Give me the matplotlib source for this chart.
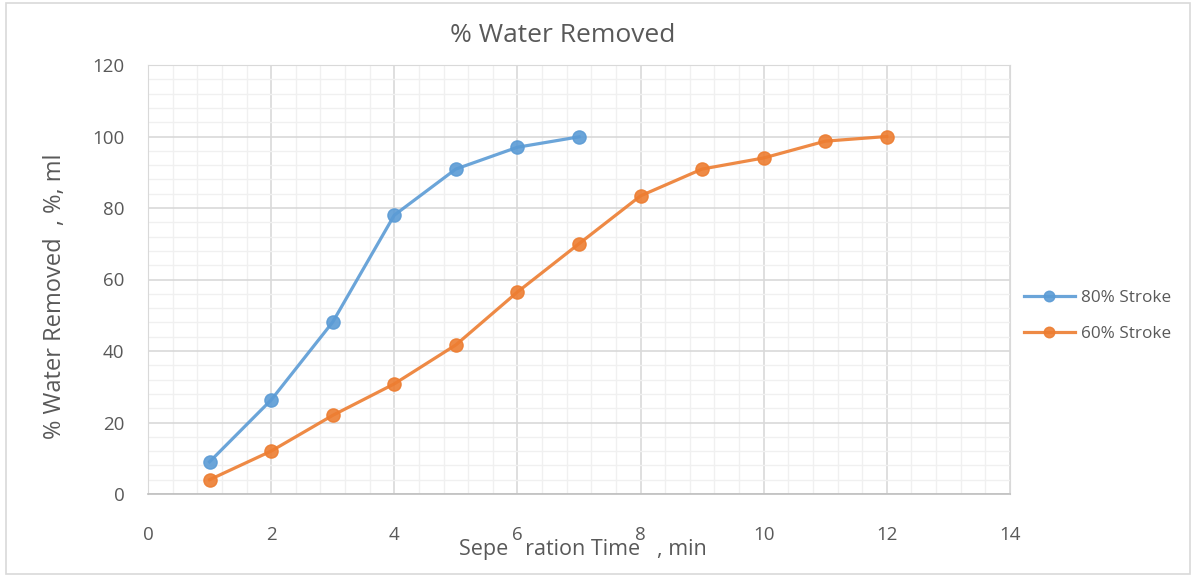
import matplotlib
matplotlib.use("Agg")
import matplotlib.pyplot as plt
from matplotlib.ticker import MultipleLocator
from matplotlib.patches import Rectangle

plt.rcParams['font.family'] = ['Open Sans', 'DejaVu Sans']

# Separation time (min) and cumulative water removed (%)
time_80 = [1, 2, 3, 4, 5, 6, 7]
water_80 = [9, 26.3, 48.1, 78, 90.9, 97, 99.9]
time_60 = [1, 2, 3, 4, 5, 6, 7, 8, 9, 10, 11, 12]
water_60 = [4, 12, 22, 30.8, 41.7, 56.5, 70, 83.4, 90.9, 94, 98.7, 100]
series_labels = ["80% Stroke", "60% Stroke"]
x_ticks = [0, 2, 4, 6, 8, 10, 12, 14]
y_ticks = [0, 20, 40, 60, 80, 100, 120]

W, H = 1194, 577
fig = plt.figure(figsize=(W / 100, H / 100), dpi=100)
ax = fig.add_axes([148 / W, 1 - 494 / H, (1010 - 148) / W, (494 - 65) / H])

text_col = "#595959"
blue = "#5B9BD5"
orange = "#ED7D31"

ax.plot(time_80, water_80, color=blue, lw=2.3, marker='o', ms=9.5,
        label=series_labels[0], alpha=0.9, zorder=3)
ax.plot(time_60, water_60, color=orange, lw=2.3, marker='o', ms=9.5,
        label=series_labels[1], alpha=0.9, zorder=3)

ax.set_xlim(0, 14)
ax.set_ylim(0, 120)
ax.set_xticks(x_ticks)
ax.set_yticks(y_ticks)
ax.xaxis.set_minor_locator(MultipleLocator(0.4))
ax.yaxis.set_minor_locator(MultipleLocator(4))
ax.grid(which='major', color='#D9D9D9', lw=1.2)
ax.grid(which='minor', color='#F0F0F0', lw=1.0)
ax.set_axisbelow(True)
ax.tick_params(which='both', length=0, labelsize=13.5, colors=text_col)
ax.tick_params(axis='x', pad=23)
ax.tick_params(axis='y', pad=17)
for side in ['top', 'right', 'left']:
    ax.spines[side].set_color('#D9D9D9')
ax.spines['bottom'].set_color('#BFBFBF')
ax.spines['bottom'].set_linewidth(1.2)

fig.text(563 / W, 1 - 36 / H, "% Water Removed", fontsize=19,
         color=text_col, ha='center', va='center')
fig.text(55 / W, 1 - 296 / H, "% Water Removed  , %, ml", fontsize=17,
         color=text_col, ha='center', va='center', rotation=90)
fig.text(583 / W, 1 - 549 / H, "Sepe   ration Time   , min", fontsize=15.5,
         color=text_col, ha='center', va='center')

leg = ax.legend(loc='center left', bbox_to_anchor=(0.998, 0.415), frameon=False,
                fontsize=12.3, labelcolor=text_col, handlelength=3.0,
                handletextpad=0.35, labelspacing=1.15, markerscale=0.8)

# Outer chart border
fig.patches.append(Rectangle((6 / W, 3 / H), (W - 10) / W, (H - 6) / H,
                             transform=fig.transFigure, fill=False,
                             edgecolor='#D9D9D9', lw=1.2))

fig.savefig("out.png", dpi=100)
